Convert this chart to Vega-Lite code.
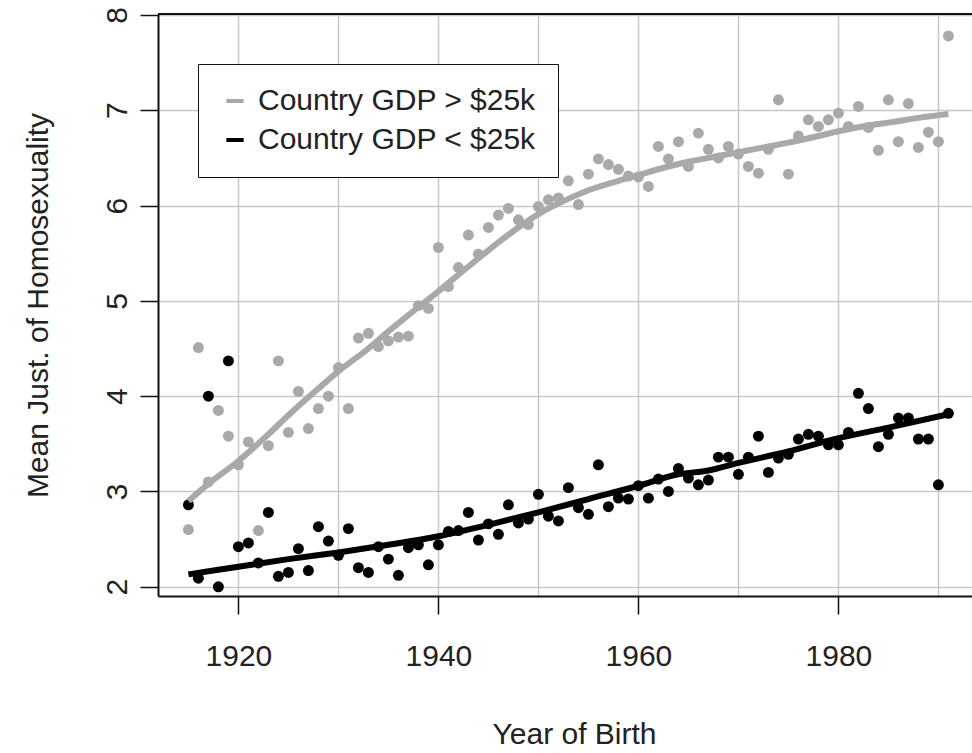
{
  "$schema": "https://vega.github.io/schema/vega-lite/v6.json",
  "width": 814,
  "height": 582,
  "autosize": {"type": "none"},
  "padding": {"left": 158, "top": 14, "right": 0, "bottom": 157},
  "background": "white",
  "config": {
    "view": {"stroke": null},
    "font": "Liberation Sans",
    "axis": {
      "grid": true,
      "gridColor": "#c8c8c8",
      "gridWidth": 1.5,
      "domain": true,
      "domainColor": "#111111",
      "domainWidth": 2,
      "tickColor": "#111111",
      "tickWidth": 1.5,
      "tickSize": 18,
      "labelFontSize": 30,
      "labelColor": "#222222",
      "labelFont": "Liberation Sans",
      "labelFlush": false,
      "labelOverlap": false,
      "labelBound": false,
      "titleFontSize": 30,
      "titleFontWeight": "normal",
      "titleColor": "#222222",
      "titleFont": "Liberation Sans"
    },
    "legend": {
      "orient": "none",
      "legendX": 40,
      "legendY": 50,
      "padding": 22,
      "strokeColor": "#111111",
      "fillColor": "white",
      "cornerRadius": 0,
      "symbolType": "stroke",
      "symbolSize": 300,
      "symbolStrokeWidth": 4,
      "labelFontSize": 30,
      "labelFont": "Liberation Sans",
      "labelColor": "#222222",
      "labelOffset": 8,
      "labelLimit": 1000,
      "rowPadding": 9
    }
  },
  "datasets": {
    "points": [
      {"year": 1915, "value": 2.60, "group": "Country GDP > $25k"},
      {"year": 1916, "value": 4.51, "group": "Country GDP > $25k"},
      {"year": 1917, "value": 3.10, "group": "Country GDP > $25k"},
      {"year": 1918, "value": 3.85, "group": "Country GDP > $25k"},
      {"year": 1919, "value": 3.58, "group": "Country GDP > $25k"},
      {"year": 1920, "value": 3.28, "group": "Country GDP > $25k"},
      {"year": 1921, "value": 3.52, "group": "Country GDP > $25k"},
      {"year": 1922, "value": 2.59, "group": "Country GDP > $25k"},
      {"year": 1923, "value": 3.48, "group": "Country GDP > $25k"},
      {"year": 1924, "value": 4.37, "group": "Country GDP > $25k"},
      {"year": 1925, "value": 3.62, "group": "Country GDP > $25k"},
      {"year": 1926, "value": 4.05, "group": "Country GDP > $25k"},
      {"year": 1927, "value": 3.66, "group": "Country GDP > $25k"},
      {"year": 1928, "value": 3.87, "group": "Country GDP > $25k"},
      {"year": 1929, "value": 4.00, "group": "Country GDP > $25k"},
      {"year": 1930, "value": 4.30, "group": "Country GDP > $25k"},
      {"year": 1931, "value": 3.87, "group": "Country GDP > $25k"},
      {"year": 1932, "value": 4.61, "group": "Country GDP > $25k"},
      {"year": 1933, "value": 4.66, "group": "Country GDP > $25k"},
      {"year": 1934, "value": 4.52, "group": "Country GDP > $25k"},
      {"year": 1935, "value": 4.58, "group": "Country GDP > $25k"},
      {"year": 1936, "value": 4.62, "group": "Country GDP > $25k"},
      {"year": 1937, "value": 4.63, "group": "Country GDP > $25k"},
      {"year": 1938, "value": 4.95, "group": "Country GDP > $25k"},
      {"year": 1939, "value": 4.92, "group": "Country GDP > $25k"},
      {"year": 1940, "value": 5.56, "group": "Country GDP > $25k"},
      {"year": 1941, "value": 5.15, "group": "Country GDP > $25k"},
      {"year": 1942, "value": 5.35, "group": "Country GDP > $25k"},
      {"year": 1943, "value": 5.69, "group": "Country GDP > $25k"},
      {"year": 1944, "value": 5.49, "group": "Country GDP > $25k"},
      {"year": 1945, "value": 5.77, "group": "Country GDP > $25k"},
      {"year": 1946, "value": 5.90, "group": "Country GDP > $25k"},
      {"year": 1947, "value": 5.97, "group": "Country GDP > $25k"},
      {"year": 1948, "value": 5.85, "group": "Country GDP > $25k"},
      {"year": 1949, "value": 5.80, "group": "Country GDP > $25k"},
      {"year": 1950, "value": 5.99, "group": "Country GDP > $25k"},
      {"year": 1951, "value": 6.06, "group": "Country GDP > $25k"},
      {"year": 1952, "value": 6.08, "group": "Country GDP > $25k"},
      {"year": 1953, "value": 6.26, "group": "Country GDP > $25k"},
      {"year": 1954, "value": 6.01, "group": "Country GDP > $25k"},
      {"year": 1955, "value": 6.33, "group": "Country GDP > $25k"},
      {"year": 1956, "value": 6.49, "group": "Country GDP > $25k"},
      {"year": 1957, "value": 6.43, "group": "Country GDP > $25k"},
      {"year": 1958, "value": 6.38, "group": "Country GDP > $25k"},
      {"year": 1959, "value": 6.31, "group": "Country GDP > $25k"},
      {"year": 1960, "value": 6.30, "group": "Country GDP > $25k"},
      {"year": 1961, "value": 6.20, "group": "Country GDP > $25k"},
      {"year": 1962, "value": 6.62, "group": "Country GDP > $25k"},
      {"year": 1963, "value": 6.49, "group": "Country GDP > $25k"},
      {"year": 1964, "value": 6.67, "group": "Country GDP > $25k"},
      {"year": 1965, "value": 6.41, "group": "Country GDP > $25k"},
      {"year": 1966, "value": 6.76, "group": "Country GDP > $25k"},
      {"year": 1967, "value": 6.59, "group": "Country GDP > $25k"},
      {"year": 1968, "value": 6.50, "group": "Country GDP > $25k"},
      {"year": 1969, "value": 6.62, "group": "Country GDP > $25k"},
      {"year": 1970, "value": 6.54, "group": "Country GDP > $25k"},
      {"year": 1971, "value": 6.41, "group": "Country GDP > $25k"},
      {"year": 1972, "value": 6.34, "group": "Country GDP > $25k"},
      {"year": 1973, "value": 6.59, "group": "Country GDP > $25k"},
      {"year": 1974, "value": 7.11, "group": "Country GDP > $25k"},
      {"year": 1975, "value": 6.33, "group": "Country GDP > $25k"},
      {"year": 1976, "value": 6.73, "group": "Country GDP > $25k"},
      {"year": 1977, "value": 6.90, "group": "Country GDP > $25k"},
      {"year": 1978, "value": 6.83, "group": "Country GDP > $25k"},
      {"year": 1979, "value": 6.90, "group": "Country GDP > $25k"},
      {"year": 1980, "value": 6.97, "group": "Country GDP > $25k"},
      {"year": 1981, "value": 6.83, "group": "Country GDP > $25k"},
      {"year": 1982, "value": 7.04, "group": "Country GDP > $25k"},
      {"year": 1983, "value": 6.82, "group": "Country GDP > $25k"},
      {"year": 1984, "value": 6.58, "group": "Country GDP > $25k"},
      {"year": 1985, "value": 7.11, "group": "Country GDP > $25k"},
      {"year": 1986, "value": 6.67, "group": "Country GDP > $25k"},
      {"year": 1987, "value": 7.07, "group": "Country GDP > $25k"},
      {"year": 1988, "value": 6.61, "group": "Country GDP > $25k"},
      {"year": 1989, "value": 6.77, "group": "Country GDP > $25k"},
      {"year": 1990, "value": 6.67, "group": "Country GDP > $25k"},
      {"year": 1991, "value": 7.78, "group": "Country GDP > $25k"},
      {"year": 1915, "value": 2.86, "group": "Country GDP < $25k"},
      {"year": 1916, "value": 2.09, "group": "Country GDP < $25k"},
      {"year": 1917, "value": 4.00, "group": "Country GDP < $25k"},
      {"year": 1918, "value": 2.00, "group": "Country GDP < $25k"},
      {"year": 1919, "value": 4.37, "group": "Country GDP < $25k"},
      {"year": 1920, "value": 2.42, "group": "Country GDP < $25k"},
      {"year": 1921, "value": 2.46, "group": "Country GDP < $25k"},
      {"year": 1922, "value": 2.25, "group": "Country GDP < $25k"},
      {"year": 1923, "value": 2.78, "group": "Country GDP < $25k"},
      {"year": 1924, "value": 2.11, "group": "Country GDP < $25k"},
      {"year": 1925, "value": 2.15, "group": "Country GDP < $25k"},
      {"year": 1926, "value": 2.40, "group": "Country GDP < $25k"},
      {"year": 1927, "value": 2.17, "group": "Country GDP < $25k"},
      {"year": 1928, "value": 2.63, "group": "Country GDP < $25k"},
      {"year": 1929, "value": 2.48, "group": "Country GDP < $25k"},
      {"year": 1930, "value": 2.33, "group": "Country GDP < $25k"},
      {"year": 1931, "value": 2.61, "group": "Country GDP < $25k"},
      {"year": 1932, "value": 2.20, "group": "Country GDP < $25k"},
      {"year": 1933, "value": 2.15, "group": "Country GDP < $25k"},
      {"year": 1934, "value": 2.42, "group": "Country GDP < $25k"},
      {"year": 1935, "value": 2.29, "group": "Country GDP < $25k"},
      {"year": 1936, "value": 2.12, "group": "Country GDP < $25k"},
      {"year": 1937, "value": 2.41, "group": "Country GDP < $25k"},
      {"year": 1938, "value": 2.44, "group": "Country GDP < $25k"},
      {"year": 1939, "value": 2.23, "group": "Country GDP < $25k"},
      {"year": 1940, "value": 2.44, "group": "Country GDP < $25k"},
      {"year": 1941, "value": 2.58, "group": "Country GDP < $25k"},
      {"year": 1942, "value": 2.59, "group": "Country GDP < $25k"},
      {"year": 1943, "value": 2.78, "group": "Country GDP < $25k"},
      {"year": 1944, "value": 2.49, "group": "Country GDP < $25k"},
      {"year": 1945, "value": 2.66, "group": "Country GDP < $25k"},
      {"year": 1946, "value": 2.55, "group": "Country GDP < $25k"},
      {"year": 1947, "value": 2.86, "group": "Country GDP < $25k"},
      {"year": 1948, "value": 2.67, "group": "Country GDP < $25k"},
      {"year": 1949, "value": 2.71, "group": "Country GDP < $25k"},
      {"year": 1950, "value": 2.97, "group": "Country GDP < $25k"},
      {"year": 1951, "value": 2.74, "group": "Country GDP < $25k"},
      {"year": 1952, "value": 2.69, "group": "Country GDP < $25k"},
      {"year": 1953, "value": 3.04, "group": "Country GDP < $25k"},
      {"year": 1954, "value": 2.83, "group": "Country GDP < $25k"},
      {"year": 1955, "value": 2.76, "group": "Country GDP < $25k"},
      {"year": 1956, "value": 3.28, "group": "Country GDP < $25k"},
      {"year": 1957, "value": 2.84, "group": "Country GDP < $25k"},
      {"year": 1958, "value": 2.93, "group": "Country GDP < $25k"},
      {"year": 1959, "value": 2.92, "group": "Country GDP < $25k"},
      {"year": 1960, "value": 3.06, "group": "Country GDP < $25k"},
      {"year": 1961, "value": 2.93, "group": "Country GDP < $25k"},
      {"year": 1962, "value": 3.13, "group": "Country GDP < $25k"},
      {"year": 1963, "value": 3.00, "group": "Country GDP < $25k"},
      {"year": 1964, "value": 3.24, "group": "Country GDP < $25k"},
      {"year": 1965, "value": 3.14, "group": "Country GDP < $25k"},
      {"year": 1966, "value": 3.07, "group": "Country GDP < $25k"},
      {"year": 1967, "value": 3.12, "group": "Country GDP < $25k"},
      {"year": 1968, "value": 3.36, "group": "Country GDP < $25k"},
      {"year": 1969, "value": 3.36, "group": "Country GDP < $25k"},
      {"year": 1970, "value": 3.18, "group": "Country GDP < $25k"},
      {"year": 1971, "value": 3.36, "group": "Country GDP < $25k"},
      {"year": 1972, "value": 3.58, "group": "Country GDP < $25k"},
      {"year": 1973, "value": 3.20, "group": "Country GDP < $25k"},
      {"year": 1974, "value": 3.35, "group": "Country GDP < $25k"},
      {"year": 1975, "value": 3.39, "group": "Country GDP < $25k"},
      {"year": 1976, "value": 3.55, "group": "Country GDP < $25k"},
      {"year": 1977, "value": 3.60, "group": "Country GDP < $25k"},
      {"year": 1978, "value": 3.58, "group": "Country GDP < $25k"},
      {"year": 1979, "value": 3.49, "group": "Country GDP < $25k"},
      {"year": 1980, "value": 3.49, "group": "Country GDP < $25k"},
      {"year": 1981, "value": 3.62, "group": "Country GDP < $25k"},
      {"year": 1982, "value": 4.03, "group": "Country GDP < $25k"},
      {"year": 1983, "value": 3.87, "group": "Country GDP < $25k"},
      {"year": 1984, "value": 3.47, "group": "Country GDP < $25k"},
      {"year": 1985, "value": 3.60, "group": "Country GDP < $25k"},
      {"year": 1986, "value": 3.77, "group": "Country GDP < $25k"},
      {"year": 1987, "value": 3.77, "group": "Country GDP < $25k"},
      {"year": 1988, "value": 3.55, "group": "Country GDP < $25k"},
      {"year": 1989, "value": 3.55, "group": "Country GDP < $25k"},
      {"year": 1990, "value": 3.07, "group": "Country GDP < $25k"},
      {"year": 1991, "value": 3.82, "group": "Country GDP < $25k"}
    ],
    "lines": [
      {"year": 1915, "value": 2.90, "group": "Country GDP > $25k"},
      {"year": 1917, "value": 3.08, "group": "Country GDP > $25k"},
      {"year": 1920, "value": 3.32, "group": "Country GDP > $25k"},
      {"year": 1923, "value": 3.60, "group": "Country GDP > $25k"},
      {"year": 1925, "value": 3.80, "group": "Country GDP > $25k"},
      {"year": 1928, "value": 4.08, "group": "Country GDP > $25k"},
      {"year": 1930, "value": 4.26, "group": "Country GDP > $25k"},
      {"year": 1933, "value": 4.50, "group": "Country GDP > $25k"},
      {"year": 1935, "value": 4.68, "group": "Country GDP > $25k"},
      {"year": 1937, "value": 4.85, "group": "Country GDP > $25k"},
      {"year": 1940, "value": 5.10, "group": "Country GDP > $25k"},
      {"year": 1943, "value": 5.36, "group": "Country GDP > $25k"},
      {"year": 1945, "value": 5.53, "group": "Country GDP > $25k"},
      {"year": 1948, "value": 5.77, "group": "Country GDP > $25k"},
      {"year": 1950, "value": 5.91, "group": "Country GDP > $25k"},
      {"year": 1953, "value": 6.07, "group": "Country GDP > $25k"},
      {"year": 1955, "value": 6.16, "group": "Country GDP > $25k"},
      {"year": 1958, "value": 6.26, "group": "Country GDP > $25k"},
      {"year": 1960, "value": 6.32, "group": "Country GDP > $25k"},
      {"year": 1963, "value": 6.41, "group": "Country GDP > $25k"},
      {"year": 1965, "value": 6.46, "group": "Country GDP > $25k"},
      {"year": 1968, "value": 6.52, "group": "Country GDP > $25k"},
      {"year": 1970, "value": 6.56, "group": "Country GDP > $25k"},
      {"year": 1973, "value": 6.62, "group": "Country GDP > $25k"},
      {"year": 1975, "value": 6.66, "group": "Country GDP > $25k"},
      {"year": 1978, "value": 6.73, "group": "Country GDP > $25k"},
      {"year": 1980, "value": 6.78, "group": "Country GDP > $25k"},
      {"year": 1983, "value": 6.84, "group": "Country GDP > $25k"},
      {"year": 1985, "value": 6.87, "group": "Country GDP > $25k"},
      {"year": 1988, "value": 6.92, "group": "Country GDP > $25k"},
      {"year": 1991, "value": 6.96, "group": "Country GDP > $25k"},
      {"year": 1915, "value": 2.13, "group": "Country GDP < $25k"},
      {"year": 1920, "value": 2.21, "group": "Country GDP < $25k"},
      {"year": 1925, "value": 2.29, "group": "Country GDP < $25k"},
      {"year": 1930, "value": 2.36, "group": "Country GDP < $25k"},
      {"year": 1935, "value": 2.44, "group": "Country GDP < $25k"},
      {"year": 1940, "value": 2.53, "group": "Country GDP < $25k"},
      {"year": 1945, "value": 2.65, "group": "Country GDP < $25k"},
      {"year": 1950, "value": 2.78, "group": "Country GDP < $25k"},
      {"year": 1955, "value": 2.92, "group": "Country GDP < $25k"},
      {"year": 1960, "value": 3.06, "group": "Country GDP < $25k"},
      {"year": 1964, "value": 3.18, "group": "Country GDP < $25k"},
      {"year": 1967, "value": 3.22, "group": "Country GDP < $25k"},
      {"year": 1970, "value": 3.30, "group": "Country GDP < $25k"},
      {"year": 1975, "value": 3.42, "group": "Country GDP < $25k"},
      {"year": 1980, "value": 3.56, "group": "Country GDP < $25k"},
      {"year": 1985, "value": 3.67, "group": "Country GDP < $25k"},
      {"year": 1991, "value": 3.81, "group": "Country GDP < $25k"}
    ],
    "frame": [{"edge": "top", "value": 8.01}]
  },
  "layer": [
    {
      "data": {"name": "points"},
      "mark": {"type": "circle", "size": 120, "opacity": 1},
      "encoding": {
        "x": {
          "field": "year", "type": "quantitative",
          "scale": {"domain": [1911.96, 1993.36], "nice": false, "zero": false},
          "axis": {
            "values": [1920, 1930, 1940, 1950, 1960, 1970, 1980, 1990],
            "format": "d",
            "labelExpr": "datum.value % 20 == 0 && datum.value <= 1980 ? datum.label : ''",
            "tickOpacity": {"condition": {"test": "datum.value % 20 == 0 && datum.value <= 1980", "value": 1}, "value": 0},
            "labelBaseline": "alphabetic",
            "labelPadding": 51,
            "title": "Year of Birth",
            "titleX": 416,
            "titleY": 147,
            "titleBaseline": "alphabetic",
            "titleAlign": "center",
            "titleAnchor": null
          }
        },
        "y": {
          "field": "value", "type": "quantitative",
          "scale": {"domain": [1.903, 8.01], "nice": false, "zero": false},
          "axis": {
            "values": [2, 3, 4, 5, 6, 7, 8],
            "format": "d",
            "labelAngle": -90,
            "labelAlign": "center",
            "labelBaseline": "alphabetic",
            "labelPadding": 14,
            "title": "Mean Just. of Homosexuality",
            "titleAngle": -90,
            "titleX": -111,
            "titleY": 291,
            "titleBaseline": "alphabetic",
            "titleAlign": "center"
          }
        },
        "color": {
          "field": "group", "type": "nominal",
          "scale": {"domain": ["Country GDP > $25k", "Country GDP < $25k"], "range": ["#a9a9a9", "#000000"]},
          "legend": {"title": null}
        }
      }
    },
    {
      "data": {"name": "lines"},
      "mark": {"type": "line", "strokeWidth": 6, "interpolate": "monotone"},
      "encoding": {
        "x": {"field": "year", "type": "quantitative"},
        "y": {"field": "value", "type": "quantitative"},
        "color": {"field": "group", "type": "nominal", "legend": {"title": null}}
      }
    },
    {
      "data": {"name": "frame"},
      "mark": {"type": "rule", "color": "#111111", "strokeWidth": 2},
      "encoding": {
        "y": {"field": "value", "type": "quantitative"}
      }
    }
  ]
}
